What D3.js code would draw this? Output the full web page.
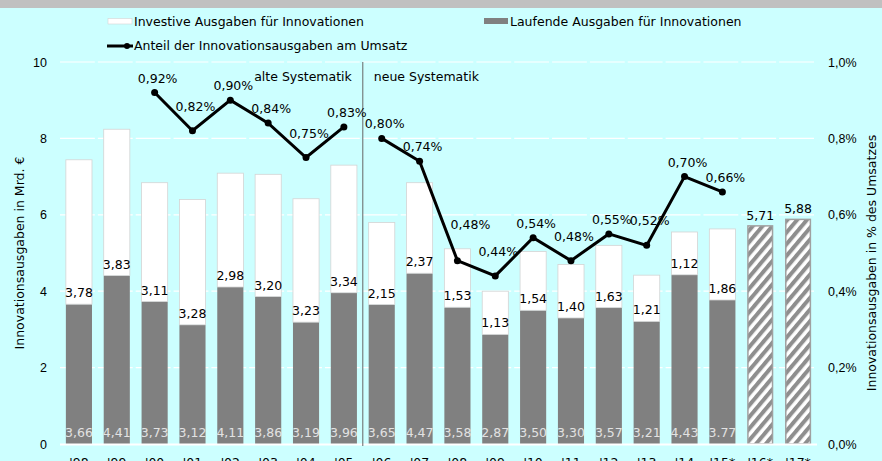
<!DOCTYPE html>
<html>
<head>
<meta charset="utf-8">
<script src="https://cdn.jsdelivr.net/npm/d3@7"></script>
<style>
  body { margin: 0; background: #ccffff; }
  svg { display: block; font-family: "DejaVu Sans", Verdana, sans-serif; }
</style>
</head>
<body>
<svg id="chart" width="882" height="461"></svg>
<script>
// Innovationsausgaben 1998-2017
var years = ["'98", "'99", "'00", "'01", "'02", "'03", "'04", "'05", "'06", "'07",
             "'08", "'09", "'10", "'11", "'12", "'13", "'14", "'15*", "'16*", "'17*"]
var laufende = [3.66, 4.41, 3.73, 3.12, 4.11, 3.86, 3.19, 3.96, 3.65, 4.47,
                3.58, 2.87, 3.50, 3.30, 3.57, 3.21, 4.43, 3.77, null, null]
var investive = [3.78, 3.83, 3.11, 3.28, 2.98, 3.20, 3.23, 3.34, 2.15, 2.37,
                 1.53, 1.13, 1.54, 1.40, 1.63, 1.21, 1.12, 1.86, null, null]
var geplant = [null, null, null, null, null, null, null, null, null, null,
               null, null, null, null, null, null, null, null, 5.71, 5.88]
var anteil = [null, null, 0.92, 0.82, 0.90, 0.84, 0.75, 0.83, 0.80, 0.74,
              0.48, 0.44, 0.54, 0.48, 0.55, 0.52, 0.70, 0.66, null, null]
var yTicks = [0, 2, 4, 6, 8, 10]
var pctTicks = [0, 0.2, 0.4, 0.6, 0.8, 1.0]
var neueSystematikAb = "'06"
var punktLabel = ["'15*"]   // label written with a point in the original

var svg = d3.select('#chart')
var plotL = 60, plotR = 817, plotT = 62, plotB = 444
var fs = 12.5

var de = d3.formatLocale({ decimal: ',', thousands: '.', grouping: [3], currency: ['', '€'] })
var f2 = de.format('.2f')
var f1pct = function (v) { return de.format('.1f')(v) + '%' }

var x = d3.scaleBand().domain(years).range([plotL, plotR]).paddingInner(0.31).paddingOuter(0.155)
var y = d3.scaleLinear().domain([0, 10]).range([plotB, plotT])
var yp = d3.scaleLinear().domain([0, 1.0]).range([plotB, plotT])

var rows = years.map(function (yr, i) {
  return { year: yr, lauf: laufende[i], inv: investive[i], plan: geplant[i], pct: anteil[i], i: i }
})

svg.append('rect').attr('width', 882).attr('height', 8).attr('fill', '#c0c0c0')

// hatch for planned values
var pat = svg.append('defs').append('pattern')
    .attr('id', 'hatch').attr('patternUnits', 'userSpaceOnUse')
    .attr('width', 7.5).attr('height', 7.5)
    .attr('patternTransform', 'rotate(40)')
pat.append('rect').attr('width', 7.5).attr('height', 7.5).attr('fill', '#ffffff')
pat.append('rect').attr('width', 4).attr('height', 7.5).attr('fill', '#8e8e8e')

// grid
var step = x.step()
svg.append('g').selectAll('line')
    .data(yTicks.filter(function (d) { return d > 0 }))
    .enter().append('line')
      .attr('x1', plotL).attr('x2', plotR)
      .attr('y1', function (d) { return y(d) }).attr('y2', function (d) { return y(d) })
      .attr('stroke', '#ffffff').attr('stroke-width', 1.2)
      .attr('stroke-dasharray', (step - 3) + ',3')

// left axis
var yAxis = svg.append('g').attr('transform', 'translate(' + (plotL - 13) + ',0)')
    .call(d3.axisLeft(y).tickValues(yTicks).tickSize(0).tickPadding(0))
yAxis.select('.domain').remove()
yAxis.selectAll('text').attr('font-size', fs).attr('fill', '#000').attr('font-family', null)

// right axis
var pAxis = svg.append('g').attr('transform', 'translate(' + (plotR + 11) + ',0)')
    .call(d3.axisRight(yp).tickValues(pctTicks).tickFormat(f1pct).tickSize(0).tickPadding(0))
pAxis.select('.domain').remove()
pAxis.selectAll('text').attr('font-size', fs).attr('fill', '#000').attr('font-family', null)

// bars
var bars = svg.append('g')
bars.selectAll('rect.lauf')
    .data(rows.filter(function (d) { return d.lauf != null }))
    .enter().append('rect').attr('class', 'lauf')
      .attr('x', function (d) { return x(d.year) })
      .attr('width', x.bandwidth())
      .attr('y', function (d) { return y(d.lauf) })
      .attr('height', function (d) { return y(0) - y(d.lauf) })
      .attr('fill', '#808080')

bars.selectAll('rect.inv')
    .data(rows.filter(function (d) { return d.inv != null }))
    .enter().append('rect').attr('class', 'inv')
      .attr('x', function (d) { return x(d.year) })
      .attr('width', x.bandwidth())
      .attr('y', function (d) { return y(d.lauf + d.inv) })
      .attr('height', function (d) { return y(d.lauf) - y(d.lauf + d.inv) })
      .attr('fill', '#ffffff').attr('stroke', '#d4d4d4').attr('stroke-width', 0.8)

bars.selectAll('rect.plan')
    .data(rows.filter(function (d) { return d.plan != null }))
    .enter().append('rect').attr('class', 'plan')
      .attr('x', function (d) { return x(d.year) + 0.75 })
      .attr('width', x.bandwidth() - 1.5)
      .attr('y', function (d) { return y(d.plan) })
      .attr('height', function (d) { return y(0) - y(d.plan) })
      .attr('fill', 'url(#hatch)').attr('stroke', '#a0a0a0').attr('stroke-width', 1.5)

// baseline
svg.append('line').attr('x1', plotL).attr('x2', plotR)
    .attr('y1', y(0) + 0.5).attr('y2', y(0) + 0.5)
    .attr('stroke', '#ffffff').attr('stroke-width', 2)

// separator alte / neue Systematik
var sepX = x(neueSystematikAb) - (step - x.bandwidth()) / 2
svg.append('line').attr('x1', sepX).attr('x2', sepX).attr('y1', plotT).attr('y2', plotB + 2)
    .attr('stroke', '#666666').attr('stroke-width', 1)
svg.append('text').attr('x', sepX - 11).attr('y', 81).attr('text-anchor', 'end')
    .attr('font-size', fs).text('alte Systematik')
svg.append('text').attr('x', sepX + 11).attr('y', 81)
    .attr('font-size', fs).text('neue Systematik')

// bar labels
var cx = function (d) { return x(d.year) + x.bandwidth() / 2 }
svg.append('g').selectAll('text')
    .data(rows.filter(function (d) { return d.lauf != null }))
    .enter().append('text')
      .attr('x', cx).attr('y', y(0) - 7)
      .attr('text-anchor', 'middle').attr('font-size', fs).attr('fill', '#e2e2e2')
      .text(function (d) {
        return punktLabel.indexOf(d.year) >= 0 ? d3.format('.2f')(d.lauf) : f2(d.lauf)
      })

svg.append('g').selectAll('text')
    .data(rows.filter(function (d) { return d.inv != null }))
    .enter().append('text')
      .attr('x', cx).attr('y', function (d) { return y(d.lauf) - 7 })
      .attr('text-anchor', 'middle').attr('font-size', fs).attr('fill', '#000')
      .text(function (d) { return f2(d.inv) })

svg.append('g').selectAll('text')
    .data(rows.filter(function (d) { return d.plan != null }))
    .enter().append('text')
      .attr('x', cx).attr('y', function (d) { return y(d.plan) - 6 })
      .attr('text-anchor', 'middle').attr('font-size', fs).attr('fill', '#000')
      .text(function (d) { return f2(d.plan) })

// share line, broken at the change of methodology
var breakIdx = years.indexOf(neueSystematikAb)
var pts = rows.filter(function (d) { return d.pct != null })
var segs = [pts.filter(function (d) { return d.i < breakIdx }), pts.filter(function (d) { return d.i >= breakIdx })]
var line = d3.line().x(cx).y(function (d) { return yp(d.pct) })

svg.append('g').selectAll('path').data(segs).enter().append('path')
    .attr('d', line).attr('fill', 'none').attr('stroke', '#000')
    .attr('stroke-width', 3).attr('stroke-linejoin', 'miter')

svg.append('g').selectAll('circle').data(pts).enter().append('circle')
    .attr('cx', cx).attr('cy', function (d) { return yp(d.pct) }).attr('r', 3.5).attr('fill', '#000')

// valleys carry their label further up, clear of the line
function isValley(d) {
  var prev = rows[d.i - 1], next = rows[d.i + 1]
  return prev && next && prev.pct != null && next.pct != null && d.pct < prev.pct && d.pct < next.pct
}
function isSteepDrop(d) {
  var prev = rows[d.i - 1]
  return prev && prev.pct != null && prev.pct - d.pct > 0.15
}
svg.append('g').selectAll('text').data(pts).enter().append('text')
    .attr('x', function (d) { return cx(d) + (isSteepDrop(d) ? 13 : 3) })
    .attr('y', function (d) { return yp(d.pct) - (isSteepDrop(d) ? 32 : isValley(d) ? 20 : 10) })
    .attr('text-anchor', 'middle').attr('font-size', fs).attr('fill', '#000')
    .text(function (d) { return de.format('.2f')(d.pct) + '%' })

// x labels
svg.append('g').selectAll('text').data(rows).enter().append('text')
    .attr('x', cx).attr('y', 467).attr('text-anchor', 'middle').attr('font-size', fs)
    .text(function (d) { return d.year })

// axis titles
svg.append('text').attr('transform', 'translate(24,' + ((plotT + plotB) / 2) + ') rotate(-90)')
    .attr('text-anchor', 'middle').attr('font-size', fs).text('Innovationsausgaben in Mrd. €')
svg.append('text').attr('transform', 'translate(876,263) rotate(-90)')
    .attr('text-anchor', 'middle').attr('font-size', fs).text('Innovationsausgaben in % des Umsatzes')

// legend
var lg = svg.append('g').attr('font-size', fs)
lg.append('rect').attr('x', 108).attr('y', 18.5).attr('width', 24).attr('height', 5.5)
    .attr('fill', '#ffffff').attr('stroke', '#d4d4d4').attr('stroke-width', 0.6)
lg.append('text').attr('x', 134).attr('y', 26).text('Investive Ausgaben für Innovationen')
lg.append('rect').attr('x', 484).attr('y', 18).attr('width', 24).attr('height', 6).attr('fill', '#808080')
lg.append('text').attr('x', 510).attr('y', 26).text('Laufende Ausgaben für Innovationen')
lg.append('line').attr('x1', 107).attr('x2', 133).attr('y1', 46).attr('y2', 46)
    .attr('stroke', '#000').attr('stroke-width', 3)
lg.append('circle').attr('cx', 127).attr('cy', 46).attr('r', 3).attr('fill', '#000')
lg.append('text').attr('x', 134).attr('y', 50).text('Anteil der Innovationsausgaben am Umsatz')
</script>
</body>
</html>
